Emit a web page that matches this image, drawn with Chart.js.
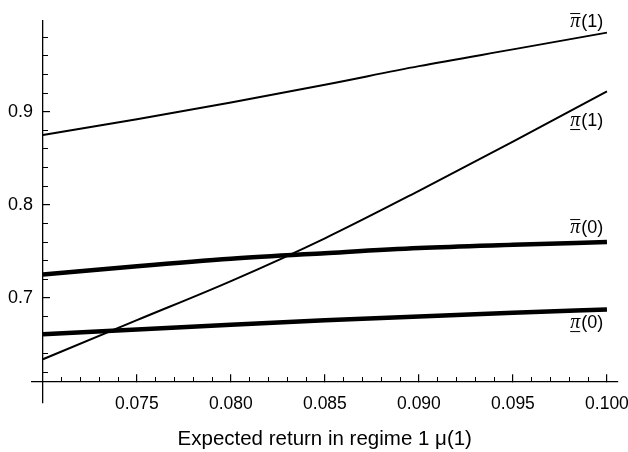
<!DOCTYPE html>
<html>
<head>
<meta charset="utf-8">
<script src="https://cdn.jsdelivr.net/npm/chart.js@4.4.1/dist/chart.umd.min.js"></script>
<style>
  html, body { margin: 0; padding: 0; background: #fff; overflow: hidden; }
  /* wider than the window: the cut-off strip is the room Chart.js keeps for the last x label */
  #wrap { width: 649px; height: 452px; }
</style>
</head>
<body>
<div id="wrap"><canvas id="chart"></canvas></div>
<script>
// expected return in regime 1, mu(1)
const muValues = [0.070, 0.075, 0.080, 0.085, 0.090, 0.095, 0.100];

// bounds
const piUpper1 = [0.875, 0.892, 0.910, 0.929, 0.949, 0.967, 0.985];
const piLower1 = [0.634, 0.676, 0.718, 0.764, 0.815, 0.868, 0.922];
const piUpper0 = [0.725, 0.734, 0.742, 0.748, 0.7535, 0.757, 0.760];
const piLower0 = [0.661, 0.666, 0.671, 0.676, 0.680, 0.684, 0.6875];

const xMajorTicks = [0.075, 0.080, 0.085, 0.090, 0.095, 0.100];
const xMinorTicks = [0.071, 0.072, 0.073, 0.074, 0.076, 0.077, 0.078, 0.079,
                     0.081, 0.082, 0.083, 0.084, 0.086, 0.087, 0.088, 0.089,
                     0.091, 0.092, 0.093, 0.094, 0.096, 0.097, 0.098, 0.099];
const yMajorTicks = [0.7, 0.8, 0.9];
const yMinorTicks = [0.62, 0.64, 0.66, 0.68, 0.72, 0.74, 0.76, 0.78,
                     0.82, 0.84, 0.86, 0.88, 0.92, 0.94, 0.96, 0.98];

const xRange = [0.06942, 0.10056];
const yRange = [0.587, 0.9975];
const axisOrigin = { x: 0.070, y: 0.610 };

// curve labels: regime, bar over/under pi, anchor (right edge, baseline)
const labelRegime = ['1', '1', '0', '0'];
const labelBar = ['over', 'under', 'over', 'under'];
const labelMu = [0.0998, 0.0998, 0.0998, 0.0998];
const labelPi = [0.991, 0.8846, 0.7696, 0.6675];

function toPoints(ys) {
    return muValues.map((m, i) => ({ x: m, y: ys[i] }));
}

function fixTicks(list) {
    return function(scale) {
        scale.ticks = list.map(v => ({ value: v }));
    };
}

const curveLabels = {
    id: 'curveLabels',
    afterDatasetsDraw(chart) {
        const ctx = chart.ctx;
        const x = chart.scales.x;
        const y = chart.scales.y;
        ctx.save();
        ctx.fillStyle = '#000';
        ctx.strokeStyle = '#000';
        ctx.lineWidth = 1;
        ctx.textBaseline = 'alphabetic';
        ctx.textAlign = 'left';
        labelRegime.forEach((r, i) => {
            const right = x.getPixelForValue(labelMu[i]);
            const base = y.getPixelForValue(labelPi[i]);
            const tail = '(' + r + ')';
            ctx.font = '18px "Liberation Sans"';
            const tw = ctx.measureText(tail).width;
            ctx.font = 'italic 20px "Liberation Serif"';
            const pw = ctx.measureText('π').width;
            const left = right - tw - pw - 1;
            ctx.fillText('π', left, base);
            ctx.font = '18px "Liberation Sans"';
            ctx.fillText(tail, left + pw + 1, base);
            const barY = labelBar[i] === 'over' ? base - 13.5 : base + 3.5;
            ctx.beginPath();
            ctx.moveTo(left, barY);
            ctx.lineTo(left + pw, barY);
            ctx.stroke();
        });
        ctx.restore();
    }
};

const lineStyle = {
    borderColor: '#000',
    pointRadius: 0,
    fill: false,
    cubicInterpolationMode: 'monotone'
};

new Chart(document.getElementById('chart').getContext('2d'), {
    type: 'line',
    data: {
        datasets: [
            Object.assign({ label: 'upper pi(1)', data: toPoints(piUpper1), borderWidth: 2 }, lineStyle),
            Object.assign({ label: 'lower pi(1)', data: toPoints(piLower1), borderWidth: 2 }, lineStyle),
            Object.assign({ label: 'upper pi(0)', data: toPoints(piUpper0), borderWidth: 4.5 }, lineStyle),
            Object.assign({ label: 'lower pi(0)', data: toPoints(piLower0), borderWidth: 4.5 }, lineStyle)
        ]
    },
    options: {
        responsive: true,
        maintainAspectRatio: false,
        animation: false,
        layout: { padding: { left: 32, right: 8, top: 21, bottom: 49 } },
        plugins: {
            legend: { display: false },
            tooltip: { enabled: false }
        },
        scales: {
            x: {
                type: 'linear',
                min: xRange[0],
                max: xRange[1],
                position: { y: axisOrigin.y },
                afterBuildTicks: fixTicks(xMajorTicks),
                border: { display: true, color: '#000', width: 1.3 },
                grid: { display: true, drawOnChartArea: false, drawTicks: true, tickLength: -8, tickColor: '#000', lineWidth: 1.2 },
                ticks: {
                    autoSkip: false, maxRotation: 0, padding: 20,
                    color: '#000', font: { family: 'Liberation Sans', size: 17.5 },
                    callback: v => v.toFixed(3)
                },
                title: {
                    display: true,
                    text: 'Expected return in regime 1 μ(1)',
                    color: '#000',
                    font: { family: 'Liberation Sans', size: 20.5 },
                    padding: { top: -8, bottom: 0 }
                }
            },
            x2: {
                type: 'linear',
                axis: 'x',
                min: xRange[0],
                max: xRange[1],
                position: { y: axisOrigin.y },
                afterBuildTicks: fixTicks(xMinorTicks),
                border: { display: false },
                grid: { display: true, drawOnChartArea: false, drawTicks: true, tickLength: -5, tickColor: '#000', lineWidth: 1 },
                ticks: { display: false, autoSkip: false }
            },
            y: {
                type: 'linear',
                min: yRange[0],
                max: yRange[1],
                position: { x: axisOrigin.x },
                afterBuildTicks: fixTicks(yMajorTicks),
                border: { display: true, color: '#000', width: 1.3 },
                grid: { display: true, drawOnChartArea: false, drawTicks: true, tickLength: -8, tickColor: '#000', lineWidth: 1.2 },
                ticks: {
                    autoSkip: false, padding: 0,
                    color: '#000', font: { family: 'Liberation Sans', size: 18 },
                    callback: v => v.toFixed(1) + '  '
                }
            },
            y2: {
                type: 'linear',
                axis: 'y',
                min: yRange[0],
                max: yRange[1],
                position: { x: axisOrigin.x },
                afterBuildTicks: fixTicks(yMinorTicks),
                border: { display: false },
                grid: { display: true, drawOnChartArea: false, drawTicks: true, tickLength: -5, tickColor: '#000', lineWidth: 1 },
                ticks: { display: false, autoSkip: false }
            }
        }
    },
    plugins: [curveLabels]
});
</script>
</body>
</html>
